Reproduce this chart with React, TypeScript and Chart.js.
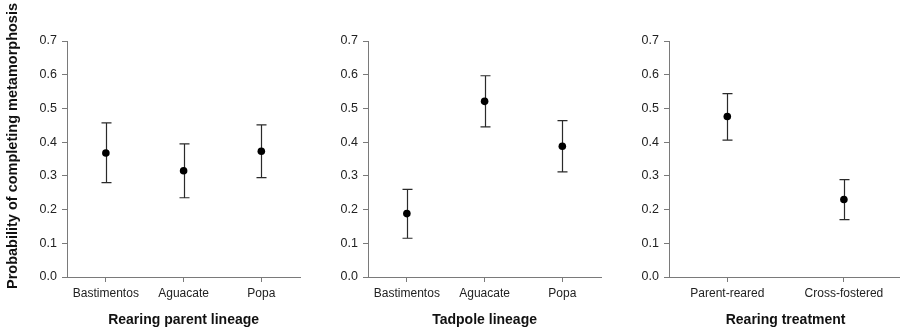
import React, { useEffect, useRef } from "react";
import { Chart, registerables } from "chart.js";

Chart.register(...registerables);

// ---------- data ----------
const parentCategories = ["Bastimentos", "Aguacate", "Popa"];
const parentMeans = [0.368, 0.315, 0.373];
const parentLower = [0.28, 0.235, 0.295];
const parentUpper = [0.457, 0.395, 0.451];

const tadpoleCategories = ["Bastimentos", "Aguacate", "Popa"];
const tadpoleMeans = [0.188, 0.521, 0.388];
const tadpoleLower = [0.115, 0.445, 0.312];
const tadpoleUpper = [0.26, 0.597, 0.464];

const treatmentCategories = ["Parent-reared", "Cross-fostered"];
const treatmentMeans = [0.476, 0.23];
const treatmentLower = [0.406, 0.17];
const treatmentUpper = [0.544, 0.289];

const yMin = 0;
const yMax = 0.7;
const yStep = 0.1;

const yTitle = "Probability of completing metamorphosis";
const xTitles = ["Rearing parent lineage", "Tadpole lineage", "Rearing treatment"];

// ---------- style ----------
const FONT = "'Liberation Sans', Arial, Helvetica, sans-serif";
const AXIS_COLOR = "#7a7a7a";
const TEXT_COLOR = "#222";
const BAR_COLOR = "#2a2a2a";

type PanelProps = {
  left: number;
  width: number;
  yAxisWidth: number;
  categories: string[];
  means: number[];
  lower: number[];
  upper: number[];
  xTitle: string;
  showYTitle: boolean;
};

const errorBarPlugin = {
  id: "errorBars",
  beforeDatasetsDraw(chart: any, _args: any, opts: any) {
    const { ctx } = chart;
    const xs = chart.scales.x;
    const ys = chart.scales.y;
    const lo: number[] = opts.lower || [];
    const hi: number[] = opts.upper || [];
    ctx.save();
    ctx.strokeStyle = BAR_COLOR;
    ctx.lineWidth = 1.2;
    for (let i = 0; i < lo.length; i++) {
      const x = Math.round(xs.getPixelForValue(i)) + 0.5;
      const y1 = ys.getPixelForValue(lo[i]);
      const y2 = ys.getPixelForValue(hi[i]);
      ctx.beginPath();
      ctx.moveTo(x, y1);
      ctx.lineTo(x, y2);
      ctx.moveTo(x - 5, y1);
      ctx.lineTo(x + 5, y1);
      ctx.moveTo(x - 5, y2);
      ctx.lineTo(x + 5, y2);
      ctx.stroke();
    }
    ctx.restore();
  },
};

const yTitlePlugin = {
  id: "yTitleText",
  afterDraw(chart: any, _args: any, opts: any) {
    if (!opts || !opts.text) return;
    const { ctx } = chart;
    ctx.save();
    ctx.translate(opts.x, opts.y);
    ctx.rotate(-Math.PI / 2);
    ctx.font = `bold ${opts.size}px ${FONT}`;
    ctx.fillStyle = "#111";
    ctx.textAlign = "center";
    ctx.textBaseline = "middle";
    ctx.fillText(opts.text, 0, 0);
    ctx.restore();
  },
};

function Panel(p: PanelProps) {
  const ref = useRef<HTMLCanvasElement | null>(null);
  useEffect(() => {
    if (!ref.current) return;
    const chart = new Chart(ref.current, {
      type: "line",
      data: {
        labels: p.categories,
        datasets: [
          {
            data: p.means,
            showLine: false,
            pointRadius: 3.8,
            pointHoverRadius: 3.8,
            pointBackgroundColor: "#000",
            pointBorderColor: "#000",
            pointBorderWidth: 0,
          },
        ],
      },
      options: {
        animation: false,
        responsive: false,
        devicePixelRatio: 1,
        layout: { padding: { top: 41, bottom: 0, left: 0, right: 0 } },
        plugins: {
          legend: { display: false },
          tooltip: { enabled: false },
          errorBars: { lower: p.lower, upper: p.upper },
          yTitleText: p.showYTitle
            ? { text: yTitle, x: 13, y: 146, size: 14.5 }
            : { text: "" },
        } as any,
        scales: {
          x: {
            type: "category",
            offset: true,
            grid: {
              display: true,
              drawOnChartArea: false,
              drawTicks: true,
              tickLength: 5,
              color: AXIS_COLOR,
              offset: false,
            },
            border: { display: true, color: AXIS_COLOR, width: 1 },
            ticks: {
              color: TEXT_COLOR,
              font: { family: FONT, size: 12 },
              padding: 4,
              maxRotation: 0,
              autoSkip: false,
            },
            title: {
              display: true,
              text: p.xTitle,
              color: "#111",
              font: { family: FONT, size: 14, weight: "bold" },
              padding: { top: 0, bottom: 0.5 },
            },
            afterFit: (s: any) => {
              s.height = 52;
            },
          },
          y: {
            type: "linear",
            min: yMin,
            max: yMax,
            grid: {
              display: true,
              drawOnChartArea: false,
              drawTicks: true,
              tickLength: 5,
              color: AXIS_COLOR,
            },
            border: { display: true, color: AXIS_COLOR, width: 1 },
            ticks: {
              stepSize: yStep,
              color: TEXT_COLOR,
              font: { family: FONT, size: 12.5 },
              padding: 5,
              callback: (v: any) => Number(v).toFixed(1),
            },
            afterFit: (s: any) => {
              s.width = p.yAxisWidth;
            },
          },
        },
      },
      plugins: [errorBarPlugin, yTitlePlugin],
    });
    return () => chart.destroy();
  }, []);
  return (
    <canvas
      ref={ref}
      width={p.width}
      height={329}
      style={{ position: "absolute", left: p.left, top: 0, width: p.width, height: 329 }}
    />
  );
}

export default function App() {
  return (
    <div
      style={{
        position: "fixed",
        left: 0,
        top: 0,
        width: 900,
        height: 329,
        overflow: "hidden",
        background: "#fff",
      }}
    >
      <Panel
        left={0}
        width={304}
        yAxisWidth={67}
        categories={parentCategories}
        means={parentMeans}
        lower={parentLower}
        upper={parentUpper}
        xTitle={xTitles[0]}
        showYTitle={true}
      />
      <Panel
        left={304}
        width={301}
        yAxisWidth={64}
        categories={tadpoleCategories}
        means={tadpoleMeans}
        lower={tadpoleLower}
        upper={tadpoleUpper}
        xTitle={xTitles[1]}
        showYTitle={false}
      />
      <Panel
        left={605}
        width={301}
        yAxisWidth={64}
        categories={treatmentCategories}
        means={treatmentMeans}
        lower={treatmentLower}
        upper={treatmentUpper}
        xTitle={xTitles[2]}
        showYTitle={false}
      />
    </div>
  );
}
